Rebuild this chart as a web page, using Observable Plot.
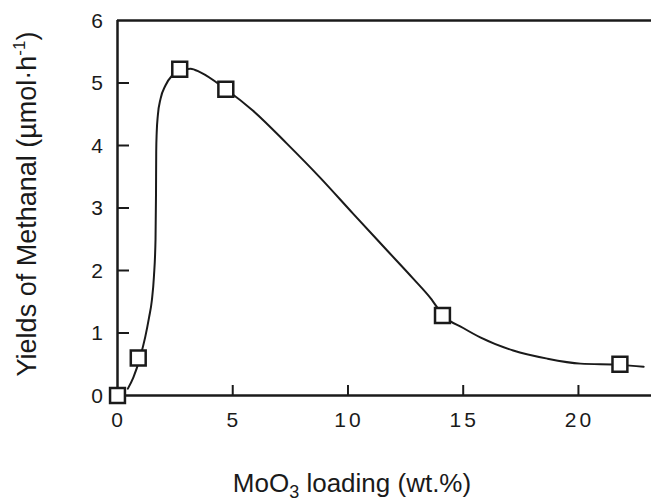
<!DOCTYPE html>
<html><head><meta charset="utf-8">
<script src="https://cdn.jsdelivr.net/npm/d3@7"></script>
<script src="https://cdn.jsdelivr.net/npm/@observablehq/plot@0.6"></script>
<style>body{margin:0;background:#fff;} #chart svg{display:block;}</style>
</head><body><div id="chart"></div>
<script>
// Measured points (MoO3 loading wt.%, methanal yield µmol/h)
const loading = [0, 0.9, 2.7, 4.7, 14.1, 21.8];
const yields = [0, 0.6, 5.22, 4.9, 1.28, 0.5];
// Hand-drawn smooth curve
const curveX = [0.45, 0.69, 0.98, 1.2, 1.37, 1.49, 1.58, 1.65, 1.67, 1.68, 1.7, 1.75, 1.87, 2.08, 2.37, 2.73, 3.17, 3.6, 4.7, 5.87, 7.35, 8.78, 10.22, 11.7, 12.83, 13.6, 14.13, 15.0, 15.74, 17.17, 18.65, 20.09, 21.8, 22.83];
const curveY = [0.11, 0.29, 0.61, 0.93, 1.25, 1.52, 1.9, 2.5, 3.2, 3.9, 4.2, 4.48, 4.75, 4.96, 5.12, 5.2, 5.23, 5.17, 4.9, 4.56, 4.03, 3.49, 2.91, 2.32, 1.87, 1.55, 1.28, 1.08, 0.93, 0.72, 0.59, 0.51, 0.49, 0.46];
const xTicks = [0, 5, 10, 15, 20];
const yTicks = [0, 1, 2, 3, 4, 5, 6];

const pts = loading.map((x, i) => ({x, y: yields[i]}));
const curve = curveX.map((x, i) => ({x, y: curveY[i]}));

const W = 651, H = 501, mL = 117, mT = 20, mB = 106;
const plotW = W - mL, plotH = H - mT - mB;
const ink = "#1a1a1a";

const chart = Plot.plot({
  width: W, height: H,
  marginLeft: mL, marginRight: 0, marginTop: mT, marginBottom: mB,
  style: {fontFamily: "'Liberation Sans', Arial, sans-serif", fontSize: "19px", color: ink, background: "#fff"},
  x: {domain: [0, 23.17]},
  y: {domain: [0, 6]},
  marks: [
    Plot.ruleY([0, 6], {stroke: ink, strokeWidth: 2.5}),
    Plot.ruleX([0], {stroke: ink, strokeWidth: 2.5}),
    Plot.tickX(xTicks.slice(1), {x: d => d, insetTop: plotH - 10, stroke: ink, strokeWidth: 2}),
    Plot.tickY(yTicks.slice(1, 6), {y: d => d, insetRight: plotW - 12, stroke: ink, strokeWidth: 2}),
    Plot.axisX(xTicks, {tickSize: 0, tickPadding: 14, label: null, fill: ink, tickFormat: "d"}),
    Plot.axisY(yTicks, {tickSize: 0, tickPadding: 14, label: null, fill: ink, tickFormat: "d"}),
    Plot.line(curve, {x: "x", y: "y", curve: "monotone-x", stroke: ink, strokeWidth: 2}),
    Plot.dot(pts, {x: "x", y: "y", symbol: "square", r: 8.4, fill: "#fff", stroke: ink, strokeWidth: 2.5})
  ]
});

const svg = d3.select(chart);
svg.select('g[aria-label="x-axis tick label"]')
  .attr("font-size", 21).style("font-size", "21px")
  .style("letter-spacing", "3px").attr("transform", "translate(1.5,17)");
svg.select('g[aria-label="y-axis tick label"]')
  .attr("font-size", 21).style("font-size", "21px").attr("transform", "translate(-14,1)");

const xt = svg.append("text")
  .attr("x", 352).attr("y", 492)
  .attr("text-anchor", "middle")
  .style("font-size", "26px").style("fill", ink);
xt.append("tspan").text("MoO");
xt.append("tspan").attr("dy", 6).style("font-size", "18px").text("3");
xt.append("tspan").attr("dy", -6).text(" loading (wt.%)");

const yt = svg.append("text")
  .attr("transform", "translate(36,204) rotate(-90)")
  .attr("text-anchor", "middle")
  .style("font-size", "27px").style("fill", ink);
yt.append("tspan").text("Yields of Methanal (\u00b5mol\u00b7h");
yt.append("tspan").attr("dy", -11).style("font-size", "17px").text("-1");
yt.append("tspan").attr("dy", 11).text(")");

document.getElementById("chart").appendChild(chart);
</script>
</body></html>
